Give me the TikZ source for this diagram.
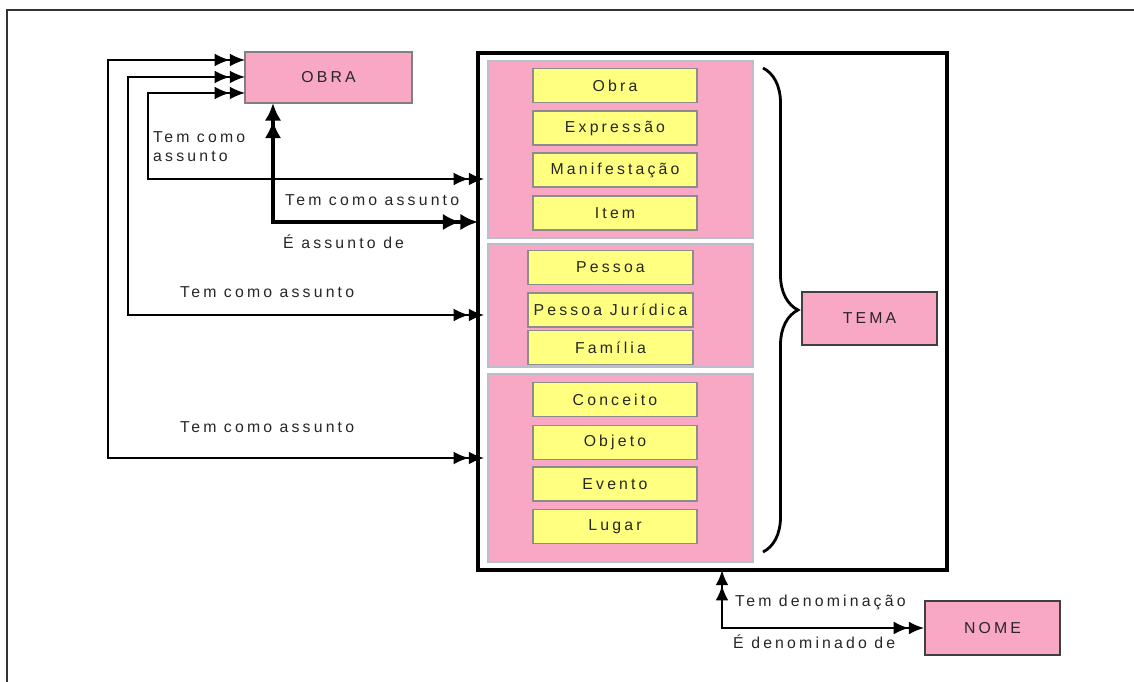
\documentclass[tikz,border=0pt]{standalone}
\usepackage{fontspec}
\setmainfont{Liberation Sans}[LetterSpace=20]
\usepackage{tikz}
\usetikzlibrary{arrows.meta}
\usetikzlibrary{decorations.pathreplacing}
\usepackage{xcolor}

\definecolor{rosa}{RGB}{248,168,196}
\definecolor{amarelo}{RGB}{255,255,128}
\definecolor{borda}{RGB}{185,190,202}

\tikzset{
    Dbl/.tip={Latex[length=13pt,width=11pt] Latex[length=13pt,width=11pt]},
    DblG/.tip={Latex[length=15pt,width=14pt] Latex[length=15pt,width=14pt]},
    entidade/.style={draw=black!75, line width=1.4pt, fill=rosa,
        minimum width=4.05cm, minimum height=1.6cm, inner sep=0pt},
    grupo/.style={draw=borda, line width=1.6pt, fill=rosa,
        minimum width=7.95cm, inner sep=0pt},
    itembox/.style={draw=black!45, line width=1.2pt, fill=amarelo,
        minimum width=4.92cm, minimum height=1.02cm, inner sep=0pt},
    ligacao/.style={line width=1.6pt, {Dbl}-{Dbl}},
    rotulo/.style={inner sep=0pt, align=left, anchor=west}
}

\begin{document}
\begin{tikzpicture}[x=0.03cm, y=-0.03cm, font=\fontsize{13.5}{16}\selectfont, text=black!85]
    \useasboundingbox (0,0) rectangle (1134,682);
    % moldura
    \draw[line width=1.4pt, black!80] (7,682) -- (7,10) -- (1134,10);

    % caixa do tema
    \node[draw, line width=2.6pt, minimum width=14.07cm, minimum height=15.51cm, inner sep=0pt] (caixa) at (712.5,311.5) {};
    \node[grupo, minimum height=5.31cm] (g1) at (620.5,149.5) {};
    \node[grupo, minimum height=3.69cm] (g2) at (620.5,305.5) {};
    \node[grupo, minimum height=5.64cm] (g3) at (620.5,468) {};

    \node[itembox] (obra1) at (615,85.5) {Obra};
    \node[itembox] (expressao) at (615,128) {Expressão};
    \node[itembox] (manif) at (615,170) {Manifestação};
    \node[itembox] (item) at (615,213) {Item};

    \node[itembox, minimum width=4.95cm] (pessoa) at (610.5,267.5) {Pessoa};
    \node[itembox, minimum width=4.95cm] (pjur) at (610.5,310) {Pessoa Jurídica};
    \node[itembox, minimum width=4.95cm] (familia) at (610.5,347.5) {Família};

    \node[itembox] (conceito) at (615,399.5) {Conceito};
    \node[itembox] (objeto) at (615,442.5) {Objeto};
    \node[itembox] (evento) at (615,484) {Evento};
    \node[itembox] (lugar) at (615,526.5) {Lugar};

    \node[entidade, draw=black!50, line width=1.1pt, minimum width=5.01cm, minimum height=1.53cm] (obra) at (328.5,77.5) {OBRA};
    \node[entidade] (tema) at (869.5,318.5) {TEMA};
    \node[entidade, minimum height=1.62cm] (nome) at (992.5,628) {NOME};

    % chave
    \draw[line width=2.4pt, decorate, decoration={brace, amplitude=1.05cm}] (763,68) -- (763,552);

    % pontos de ligacao
    \coordinate (e1) at (484,458);
    \coordinate (e2) at (484,315);
    \coordinate (e3) at (484,179);
    \coordinate (e4) at (478,222);
    \coordinate (s1) at (245,60);
    \coordinate (s2) at (245,77);
    \coordinate (s3) at (245,93);
    \coordinate (t1) at (273,103);
    \coordinate (b1) at (722,570);

    \draw[ligacao] (e1) -- ++(-376,0) |- (s1);
    \draw[ligacao] (e2) -- ++(-356,0) |- (s2);
    \draw[ligacao] (e3) -- ++(-336,0) |- (s3);
    \draw[line width=3.5pt, {DblG}-{DblG}] (t1) |- (e4);
    \draw[ligacao, line width=2pt] (b1) |- (nome.west);

    % rotulos
    \node[rotulo] (r1) at (153,147) {Tem como\\assunto};
    \node[rotulo] (r2) at (285,200) {Tem como assunto};
    \node[rotulo] (r3) at (283,242) {É assunto de};
    \node[rotulo] (r4) at (180,292) {Tem como assunto};
    \node[rotulo] (r5) at (180,427) {Tem como assunto};
    \node[rotulo] (r6) at (735,602) {Tem denominação};
    \node[rotulo] (r7) at (733,642) {É denominado de};
\end{tikzpicture}
\end{document}
